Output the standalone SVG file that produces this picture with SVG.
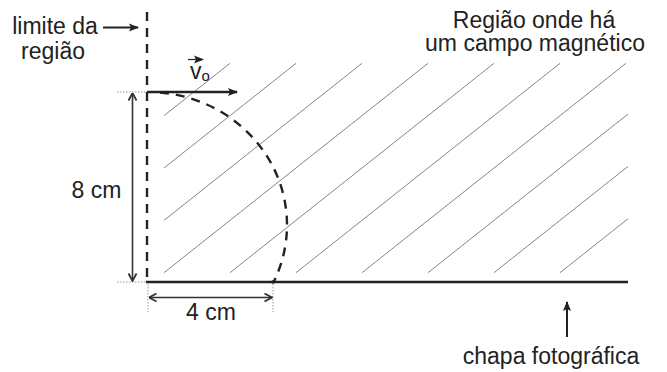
<svg xmlns="http://www.w3.org/2000/svg" width="667" height="372" viewBox="0 0 667 372">
<style>
text{font-family:"Liberation Sans",Arial,sans-serif;fill:#222;font-size:23px}
.hatch{stroke:#666;stroke-width:0.8;fill:none}
.dash{stroke:#222;stroke-width:2.4;fill:none;stroke-dasharray:9 7}
.solid{stroke:#222;stroke-width:2.5;fill:none}
.dim{stroke:#333;stroke-width:1.6;fill:none}
.dot{stroke:#999;stroke-width:1;stroke-dasharray:1.5 1.5;fill:none}
</style>
<defs>
<marker id="fa" viewBox="0 0 10 10" refX="9" refY="5" markerWidth="10" markerHeight="10" markerUnits="userSpaceOnUse" orient="auto">
<path d="M0,1 L10,5 L0,9 L2,5 Z" fill="#222"/>
</marker>
<marker id="oa" viewBox="0 0 10 10" refX="9.5" refY="5" markerWidth="10" markerHeight="10" markerUnits="userSpaceOnUse" orient="auto-start-reverse">
<path d="M2,1 L9.5,5 L2,9" fill="none" stroke="#333" stroke-width="1.8"/>
</marker>
<clipPath id="hc"><rect x="164" y="60" width="464" height="214"/></clipPath>
</defs>

<g id="hatching" clip-path="url(#hc)" class="hatch">
<line x1="-34" y1="272.7" x2="230" y2="63.3"/>
<line x1="32" y1="272.7" x2="296" y2="63.3"/>
<line x1="98" y1="272.7" x2="362" y2="63.3"/>
<line x1="164" y1="272.7" x2="428" y2="63.3"/>
<line x1="230" y1="272.7" x2="494" y2="63.3"/>
<line x1="296" y1="272.7" x2="560" y2="63.3"/>
<line x1="362" y1="272.7" x2="626" y2="63.3"/>
<line x1="428" y1="272.7" x2="692" y2="63.3"/>
<line x1="494" y1="272.7" x2="758" y2="63.3"/>
<line x1="560" y1="272.7" x2="824" y2="63.3"/>
</g>

<g id="boundary">
<line class="dash" x1="147" y1="12" x2="147" y2="282"/>
</g>

<g id="plate">
<line class="solid" x1="146" y1="282" x2="628" y2="282"/>
</g>

<g id="trajectory">
<path class="dash" d="M160,92.5 A139,133 0 0 1 273.6,282"/>
<circle cx="273" cy="282" r="1.8" fill="#222"/>
</g>

<g id="velocity">
<line class="solid" x1="147" y1="92" x2="237" y2="92" stroke-width="3" marker-end="url(#fa)"/>
<text x="190" y="79" font-size="24">v<tspan font-size="15" dy="2">o</tspan></text>
<line x1="188" y1="59.5" x2="203" y2="59.5" stroke="#222" stroke-width="1.2" marker-end="url(#fa)"/>
</g>

<g id="dimensions">
<line class="dot" x1="117" y1="92" x2="146" y2="92"/>
<line class="dot" x1="117" y1="282" x2="146" y2="282"/>
<line class="dot" x1="148" y1="284" x2="148" y2="312"/>
<line class="dot" x1="273" y1="284" x2="273" y2="312"/>
<line class="dim" x1="132.5" y1="93" x2="132.5" y2="281" marker-start="url(#oa)" marker-end="url(#oa)"/>
<line class="dim" x1="149" y1="297.5" x2="272" y2="297.5" marker-start="url(#oa)" marker-end="url(#oa)"/>
<text x="96.5" y="197.5" text-anchor="middle">8 cm</text>
<text x="211" y="320" text-anchor="middle">4 cm</text>
</g>

<g id="label-limite">
<text x="55" y="34" text-anchor="middle">limite da</text>
<text x="53" y="58.5" text-anchor="middle">região</text>
<line x1="103" y1="27.5" x2="138" y2="27.5" stroke="#222" stroke-width="2" marker-end="url(#fa)"/>
</g>

<g id="label-regiao">
<text x="534" y="27.5" text-anchor="middle">Região onde há</text>
<text x="535" y="51" text-anchor="middle">um campo magnético</text>
</g>

<g id="label-chapa">
<line x1="567" y1="337" x2="567" y2="302" stroke="#222" stroke-width="2" marker-end="url(#fa)"/>
<text x="551" y="364" text-anchor="middle">chapa fotográfica</text>
</g>
</svg>
